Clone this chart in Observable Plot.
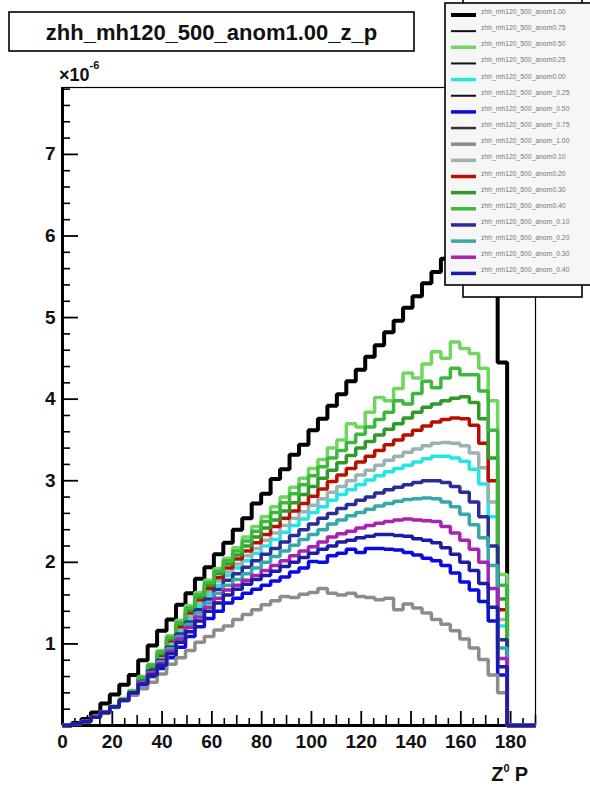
<!DOCTYPE html>
<html>
<head>
<meta charset="utf-8">
<script src="https://cdn.jsdelivr.net/npm/d3@7"></script>
<script src="https://cdn.jsdelivr.net/npm/@observablehq/plot@0.6"></script>
<style>
  html, body { margin: 0; padding: 0; background: #fff; }
  #chart svg { display: block; }
</style>
</head>
<body>
<div id="chart"></div>
<script>
// Z0 momentum distributions, bin contents in units of 1e-6, 50 bins of 3.8 from 0 to 190.
const binWidth = 3.8;
const xMax = 190;

const names = [
  "zhh_mh120_500_anom1.00", "zhh_mh120_500_anom0.75", "zhh_mh120_500_anom0.50",
  "zhh_mh120_500_anom0.25", "zhh_mh120_500_anom0.00", "zhh_mh120_500_anom_0.25",
  "zhh_mh120_500_anom_0.50", "zhh_mh120_500_anom_0.75", "zhh_mh120_500_anom_1.00",
  "zhh_mh120_500_anom0.10", "zhh_mh120_500_anom0.20", "zhh_mh120_500_anom0.30",
  "zhh_mh120_500_anom0.40", "zhh_mh120_500_anom_0.10", "zhh_mh120_500_anom_0.20",
  "zhh_mh120_500_anom_0.30", "zhh_mh120_500_anom_0.40"
];
const colors = [
  "#000000", "#111111", "#6fd65e", "#1a1111", "#22e6e6", "#111111",
  "#0a0ae6", "#333333", "#8c8c8c", "#9ab2b2", "#b80f00", "#2f9a2a",
  "#3cb83c", "#2c2c96", "#36a8a8", "#a822b4", "#1c1ca4"
];
const lineWidths = [4, 2, 3.5, 2, 3.5, 2, 3.5, 2.5, 3.5, 3.5, 3.5, 3.5, 3.5, 3.5, 3.5, 3.5, 3.5];

const anom1p00 = [0.00,0.03,0.08,0.16,0.27,0.38,0.50,0.62,0.80,0.98,
  1.16,1.30,1.48,1.62,1.80,1.94,2.10,2.24,2.40,2.54,
  2.72,2.84,3.02,3.14,3.32,3.44,3.62,3.76,3.92,4.06,
  4.22,4.36,4.52,4.66,4.82,4.96,5.12,5.26,5.42,5.56,
  5.72,5.86,6.04,6.16,6.30,6.26,4.45,0,0,0];
const anom0p50 = [0.00,0.02,0.05,0.10,0.17,0.24,0.33,0.43,0.60,0.75,
  0.92,1.10,1.29,1.47,1.63,1.78,1.92,2.05,2.18,2.31,
  2.44,2.56,2.68,2.80,2.92,3.03,3.15,3.26,3.40,3.50,
  3.70,3.66,3.84,4.02,3.98,4.13,4.32,4.26,4.43,4.58,
  4.50,4.70,4.62,4.56,4.38,3.98,1.85,0,0,0];
const anom0p00 = [0.00,0.02,0.05,0.10,0.16,0.23,0.31,0.40,0.55,0.68,
  0.82,0.99,1.15,1.31,1.46,1.60,1.72,1.84,1.93,2.02,
  2.11,2.20,2.28,2.37,2.45,2.53,2.61,2.68,2.76,2.83,
  2.89,2.95,3.01,3.06,3.11,3.15,3.19,3.23,3.27,3.30,
  3.30,3.28,3.24,3.14,2.96,2.56,1.22,0,0,0];
const anomM0p50 = [0.00,0.02,0.05,0.10,0.16,0.23,0.31,0.40,0.50,0.60,
  0.70,0.83,0.96,1.09,1.21,1.31,1.40,1.50,1.56,1.62,
  1.67,1.72,1.77,1.82,1.88,1.93,2.01,2.00,2.08,2.11,
  2.16,2.12,2.17,2.17,2.16,2.15,2.12,2.09,2.05,2.02,
  1.96,1.87,1.76,1.66,1.52,1.28,0.62,0,0,0];
const anomM1p00 = [0.00,0.02,0.05,0.10,0.16,0.22,0.30,0.37,0.45,0.53,
  0.63,0.75,0.83,0.92,1.02,1.09,1.17,1.22,1.30,1.36,
  1.42,1.48,1.53,1.58,1.57,1.61,1.63,1.68,1.62,1.60,
  1.62,1.58,1.57,1.54,1.56,1.42,1.49,1.44,1.38,1.30,
  1.24,1.16,1.06,0.95,0.81,0.62,0.40,0,0,0];
const anom0p10 = [0.00,0.02,0.05,0.10,0.16,0.23,0.31,0.40,0.56,0.69,
  0.84,1.01,1.18,1.34,1.50,1.64,1.77,1.88,1.98,2.08,
  2.17,2.27,2.36,2.45,2.54,2.62,2.70,2.78,2.86,2.93,
  3.00,3.07,3.13,3.19,3.25,3.30,3.35,3.39,3.43,3.46,
  3.47,3.46,3.43,3.34,3.16,2.74,1.30,0,0,0];
const anom0p20 = [0.00,0.02,0.05,0.10,0.16,0.23,0.31,0.40,0.57,0.71,
  0.86,1.04,1.21,1.38,1.54,1.68,1.81,1.93,2.04,2.14,
  2.24,2.34,2.44,2.54,2.63,2.72,2.81,2.90,2.99,3.07,
  3.15,3.23,3.30,3.37,3.44,3.50,3.56,3.62,3.67,3.72,
  3.75,3.77,3.76,3.68,3.46,3.00,1.42,0,0,0];
const anom0p30 = [0.00,0.02,0.05,0.10,0.16,0.23,0.32,0.41,0.58,0.72,
  0.88,1.06,1.24,1.41,1.57,1.72,1.86,1.98,2.09,2.20,
  2.31,2.42,2.52,2.63,2.73,2.83,2.93,3.03,3.13,3.22,
  3.31,3.40,3.48,3.56,3.63,3.70,3.77,3.84,3.90,3.94,
  3.98,4.01,4.03,3.96,3.76,3.28,1.55,0,0,0];
const anom0p40 = [0.00,0.02,0.05,0.10,0.16,0.23,0.32,0.42,0.59,0.74,
  0.90,1.08,1.26,1.44,1.60,1.75,1.89,2.02,2.14,2.26,
  2.38,2.50,2.61,2.73,2.84,2.95,3.06,3.17,3.28,3.37,
  3.47,3.57,3.66,3.75,3.84,3.98,3.94,4.07,4.22,4.14,
  4.26,4.38,4.30,4.30,4.10,3.62,1.72,0,0,0];
const anomM0p10 = [0.00,0.02,0.05,0.10,0.16,0.23,0.31,0.40,0.54,0.67,
  0.80,0.96,1.12,1.27,1.42,1.55,1.67,1.78,1.86,1.94,
  2.02,2.10,2.17,2.25,2.33,2.40,2.47,2.54,2.60,2.66,
  2.71,2.76,2.80,2.85,2.89,2.92,2.95,2.98,3.00,3.00,
  2.98,2.93,2.86,2.74,2.56,2.20,1.05,0,0,0];
const anomM0p20 = [0.00,0.02,0.05,0.10,0.16,0.23,0.31,0.40,0.53,0.65,
  0.78,0.94,1.09,1.24,1.38,1.50,1.62,1.72,1.79,1.86,
  1.93,2.00,2.07,2.14,2.21,2.28,2.34,2.40,2.47,2.52,
  2.57,2.61,2.65,2.69,2.72,2.75,2.77,2.78,2.79,2.78,
  2.74,2.68,2.59,2.46,2.30,1.96,0.95,0,0,0];
const anomM0p30 = [0.00,0.02,0.05,0.10,0.16,0.23,0.31,0.40,0.52,0.64,
  0.76,0.91,1.06,1.20,1.33,1.45,1.56,1.66,1.72,1.78,
  1.84,1.90,1.96,2.02,2.08,2.14,2.19,2.25,2.31,2.35,
  2.38,2.42,2.45,2.48,2.50,2.52,2.53,2.52,2.51,2.50,
  2.44,2.36,2.27,2.16,2.00,1.68,0.82,0,0,0];
const anomM0p40 = [0.00,0.02,0.05,0.10,0.16,0.23,0.31,0.40,0.51,0.62,
  0.74,0.88,1.02,1.15,1.28,1.40,1.50,1.60,1.67,1.73,
  1.79,1.84,1.89,1.95,2.00,2.06,2.11,2.16,2.20,2.25,
  2.27,2.30,2.32,2.34,2.34,2.33,2.32,2.29,2.27,2.24,
  2.18,2.10,2.00,1.90,1.74,1.45,0.72,0,0,0];

// Histograms in drawing order (index into names/colors); the thin black entries hold no entries.
const histograms = [
  [0, anom1p00], [2, anom0p50], [4, anom0p00], [6, anomM0p50], [8, anomM1p00],
  [9, anom0p10], [10, anom0p20], [11, anom0p30], [12, anom0p40],
  [13, anomM0p10], [14, anomM0p20], [15, anomM0p30], [16, anomM0p40]
];

// Axis ticks: labelled every 20, medium every 10, small every 5
const yMajor = [1, 2, 3, 4, 5, 6, 7];
const yMinor = d3.range(1, 40).map(i => i / 5).filter(v => Math.abs(v - Math.round(v)) > 1e-6);
const xLabels = [0, 20, 40, 60, 80, 100, 120, 140, 160, 180];
const xMid = d3.range(10, 191, 20);
const xMinor = d3.range(5, 191, 10);

const W = 590, H = 791;
const mL = 62, mR = 55, mT = 87, mB = 66;
const plotW = W - mL - mR, plotH = H - mT - mB;
const font = "'Liberation Sans', Arial, Helvetica, sans-serif";

function steps(values) {
  const pts = values.map((v, i) => ({x: i * binWidth, y: v}));
  pts.push({x: values.length * binWidth, y: values[values.length - 1]});
  return pts;
}

const histMarks = histograms.map(([k, vals]) =>
  Plot.line(steps(vals), {
    x: "x", y: "y", curve: "step-after",
    stroke: colors[k], strokeWidth: lineWidths[k], strokeLinejoin: "miter", strokeLinecap: "butt"
  })
);

const chart = Plot.plot({
  width: W, height: H,
  marginLeft: mL, marginRight: mR, marginTop: mT, marginBottom: mB,
  x: {domain: [0, xMax]},
  y: {domain: [0, 7.82]},
  style: {fontFamily: font, background: "#fff", color: "#111", overflow: "visible"},
  marks: [
    Plot.frame({stroke: "#000", strokeWidth: 1.2}),
    Plot.tickY(yMinor, {y: d => d, insetRight: plotW - 8, stroke: "#000", strokeWidth: 1.6}),
    Plot.tickY(yMajor, {y: d => d, insetRight: plotW - 16, stroke: "#000", strokeWidth: 1.8}),
    Plot.tickX(xMinor, {x: d => d, insetTop: plotH - 7, stroke: "#000", strokeWidth: 1.6}),
    Plot.tickX(xMid, {x: d => d, insetTop: plotH - 10, stroke: "#000", strokeWidth: 1.6}),
    Plot.tickX(xLabels, {x: d => d, insetTop: plotH - 14, stroke: "#000", strokeWidth: 1.8}),
    Plot.ruleX([0], {stroke: "#000", strokeWidth: 3}),
    Plot.ruleY([0], {stroke: "#000", strokeWidth: 3}),
    ...histMarks,
    Plot.axisY({ticks: yMajor, tickSize: 0, tickPadding: 7, label: null, fontSize: 19, fontWeight: "bold"}),
    Plot.axisX({ticks: xLabels, tickSize: 0, tickPadding: 9, label: null, fontSize: 19, fontWeight: "bold"})
  ]
});

document.getElementById("chart").append(chart);

const svg = d3.select(chart);

// Title box
svg.append("rect").attr("x", 9).attr("y", 12).attr("width", 405).attr("height", 39)
  .attr("fill", "#fff").attr("stroke", "#000").attr("stroke-width", 1.6);
svg.append("text").attr("x", 211.5).attr("y", 40).attr("text-anchor", "middle")
  .attr("font-family", font).attr("font-size", 22).attr("font-weight", "bold").attr("fill", "#111")
  .text("zhh_mh120_500_anom1.00_z_p");

// Axis exponent
const expo = svg.append("text").attr("x", 59).attr("y", 81).attr("text-anchor", "start")
  .attr("font-family", font).attr("font-size", 18).attr("font-weight", "bold").attr("fill", "#111");
expo.append("tspan").text("\u00d710");
expo.append("tspan").attr("dy", -12).attr("font-size", 11).text("-6");

// x-axis title
const xt = svg.append("text").attr("x", 528).attr("y", 781).attr("text-anchor", "end")
  .attr("font-family", font).attr("font-size", 20).attr("font-weight", "bold").attr("fill", "#111");
xt.append("tspan").text("Z");
xt.append("tspan").attr("dy", -9).attr("font-size", 11).text("0");
xt.append("tspan").attr("dy", 9).attr("dx", 5).text("P");

// Box behind the legend
svg.append("rect").attr("x", 463).attr("y", -4).attr("width", 119).attr("height", 301)
  .attr("fill", "#fff").attr("stroke", "#000").attr("stroke-width", 1.6);

// Legend
svg.append("rect").attr("x", 445).attr("y", 3).attr("width", 160).attr("height", 282)
  .attr("fill", "#f6f6f6").attr("stroke", "#000").attr("stroke-width", 1.6);
const leg = svg.append("g");
names.forEach((name, k) => {
  const y = 15 + k * 16.15;
  leg.append("line").attr("x1", 451).attr("x2", 476).attr("y1", y).attr("y2", y)
    .attr("stroke", colors[k]).attr("stroke-width", lineWidths[k]);
  leg.append("text").attr("x", 481).attr("y", y - 1).attr("text-anchor", "start")
    .attr("font-family", font).attr("font-size", 6.8).attr("fill", "#777")
    .text(name);
});
</script>
</body>
</html>
